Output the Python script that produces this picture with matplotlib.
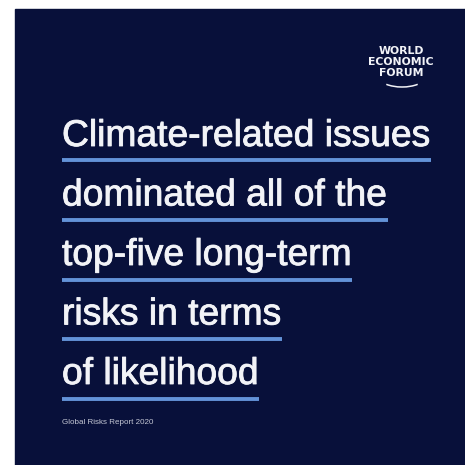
import matplotlib
matplotlib.use("Agg")
import matplotlib.pyplot as plt
from matplotlib.patches import Rectangle, Arc
import matplotlib.patheffects as pe

# Content
headline = ["Climate-related issues",
            "dominated all of the",
            "top-five long-term",
            "risks in terms",
            "of likelihood"]
logo_lines = ["WORLD", "ECONOMIC", "FORUM"]
source = "Global Risks Report 2020"

bg = "#08103a"
rule_color = "#6393d8"
text_color = "#f2f3f7"

W = H = 465
fig = plt.figure(figsize=(4.65, 4.65), dpi=100)
fig.patch.set_facecolor("white")
ax = fig.add_axes([0, 0, 1, 1])
ax.set_xlim(0, W)
ax.set_ylim(H, 0)
ax.axis("off")

# dark panel
ax.add_patch(Rectangle((15, 9), W - 15, H - 9, color=bg, zorder=0))

# headline with underlines
left = 62
base0 = 146
step = 59.5
fig.canvas.draw()
renderer = fig.canvas.get_renderer()
for i, line in enumerate(headline):
    y = base0 + i * step
    t = ax.text(left, y, line, fontsize=26.8, family="Liberation Sans",
                color=text_color, va="baseline", ha="left",
                path_effects=[pe.withStroke(linewidth=0.6, foreground=text_color)])
    bb = t.get_window_extent(renderer=renderer)
    ax.plot([left, left + bb.width], [y + 14.5, y + 14.5], color=rule_color,
            lw=2.8, solid_capstyle="butt")

# logo
for j, s in enumerate(logo_lines):
    ax.text(401, 51 + j * 11, s, fontsize=7.8, family="DejaVu Sans",
            fontweight="bold", color=text_color, ha="center", va="center")
ax.add_patch(Arc((402, 77), 46, 20, theta1=25, theta2=155,
                 color=text_color, lw=1.1))

# source line
ax.text(left, 422, source, fontsize=5.8, family="Liberation Sans",
        color="#c4c7d4", ha="left", va="center")

fig.savefig("out.png", dpi=100, facecolor=fig.get_facecolor())
